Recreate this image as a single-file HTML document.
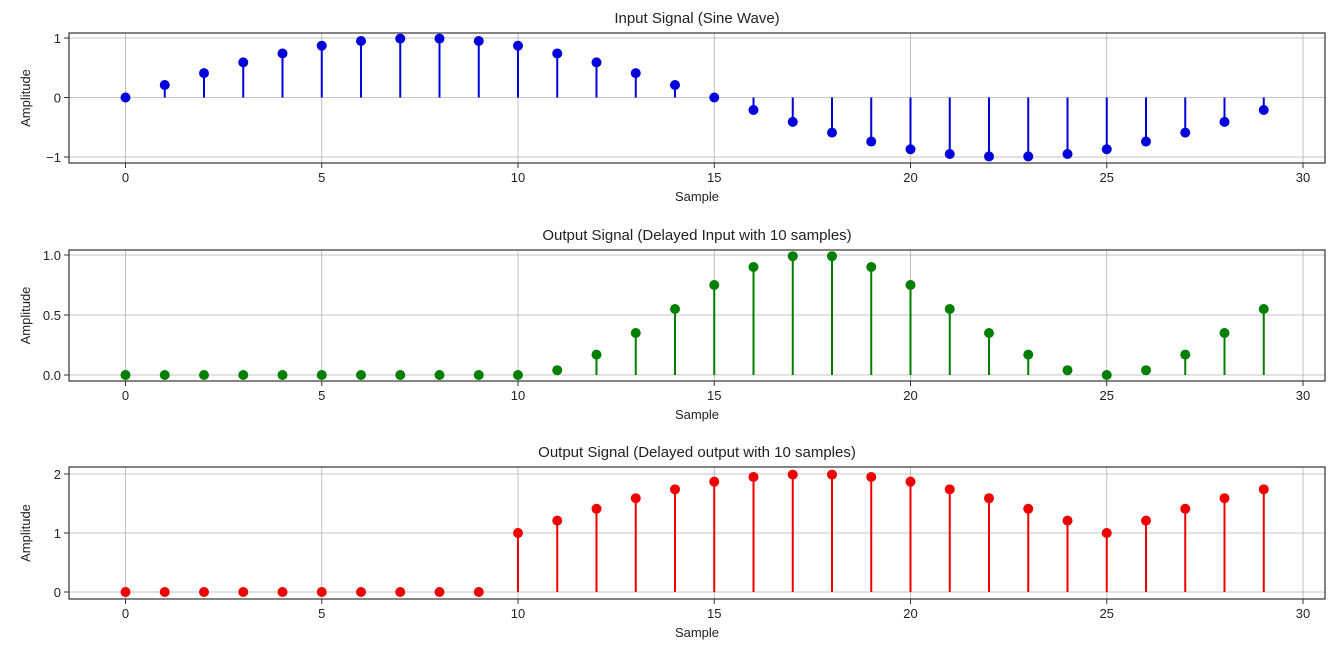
<!DOCTYPE html>
<html><head><meta charset="utf-8">
<style>
body{margin:0;background:#fff;}
svg text{font-family:"Liberation Sans","DejaVu Sans",sans-serif;fill:#222;}
</style></head>
<body>
<svg id="chart" width="1339" height="650" xmlns="http://www.w3.org/2000/svg"></svg>
<script>
const samples = Array.from({length:30},(_, i)=>i);
const inputValues = [0,0.21,0.41,0.59,0.74,0.87,0.95,0.99,0.99,0.95,0.87,0.74,0.59,0.41,0.21,0,-0.21,-0.41,-0.59,-0.74,-0.87,-0.95,-0.99,-0.99,-0.95,-0.87,-0.74,-0.59,-0.41,-0.21];
const delayedInputValues = [0,0,0,0,0,0,0,0,0,0,0,0.04,0.17,0.35,0.55,0.75,0.9,0.99,0.99,0.9,0.75,0.55,0.35,0.17,0.04,0,0.04,0.17,0.35,0.55];
const delayedOutputValues = [0,0,0,0,0,0,0,0,0,0,1,1.21,1.41,1.59,1.74,1.87,1.95,1.99,1.99,1.95,1.87,1.74,1.59,1.41,1.21,1,1.21,1.41,1.59,1.74];
const xTicks = [0,5,10,15,20,25,30];
const yTicks1 = [-1,0,1], yTickLabels1 = ["\u22121","0","1"];
const yTicks2 = [0,0.5,1], yTickLabels2 = ["0.0","0.5","1.0"];
const yTicks3 = [0,1,2], yTickLabels3 = ["0","1","2"];

const svg = document.getElementById('chart');
const NS = 'http://www.w3.org/2000/svg';
function mk(tag, attrs, parent){const e=document.createElementNS(NS,tag);for(const k in attrs)e.setAttribute(k,attrs[k]);(parent||svg).appendChild(e);return e;}

const L=69,R=1325;
const xs = v => 125.5 + v*(1303-125.5)/30;

function panel(cfg){
  const g = mk('g',{});
  
  
  const ys = v => cfg.y0px + (v - cfg.v0)*(cfg.y1px - cfg.y0px)/(cfg.v1 - cfg.v0);
  // grid
  xTicks.forEach(t=>{
    const l=mk('line',{x1:xs(t),x2:xs(t),y1:cfg.top,y2:cfg.bottom,stroke:'#b0b0b0','stroke-width':0.8},g);
    
    
    mk('line',{x1:xs(t),x2:xs(t),y1:cfg.bottom,y2:cfg.bottom+5,stroke:'#333','stroke-width':1},g);
    const tx=mk('text',{x:xs(t),y:cfg.bottom+19,'text-anchor':'middle','font-size':13},g);
    tx.textContent=t;
    
    
  });
  cfg.yTicks.forEach((t,i)=>{
    const l=mk('line',{x1:L,x2:R,y1:ys(t),y2:ys(t),stroke:'#b0b0b0','stroke-width':0.8},g);
    
    
    mk('line',{x1:L-5,x2:L,y1:ys(t),y2:ys(t),stroke:'#333','stroke-width':1},g);
    const tx=mk('text',{x:L-8,y:ys(t)+5,'text-anchor':'end','font-size':13},g);
    tx.textContent=cfg.yLabels[i];
    
    
  });
  // stems
  samples.forEach((s,i)=>{
    const v=cfg.values[i];
    const st=mk('line',{x1:xs(s),x2:xs(s),y1:ys(0),y2:ys(v),stroke:cfg.color,'stroke-width':2},g);
    
    
  });
  samples.forEach((s,i)=>{
    const c=mk('circle',{cx:xs(s),cy:ys(cfg.values[i]),r:5,fill:cfg.color},g);
    
    
  });
  const fr=mk('rect',{x:L,y:cfg.top,width:R-L,height:cfg.bottom-cfg.top,fill:'none',stroke:'#333','stroke-width':1.2},g);
  
  
  const ti=mk('text',{x:(L+R)/2,y:cfg.top-10,'text-anchor':'middle','font-size':15},g);
  ti.textContent=cfg.title;
  
  
  const xl=mk('text',{x:(L+R)/2,y:cfg.bottom+38,'text-anchor':'middle','font-size':13},g);
  xl.textContent='Sample';
  
  
  const yc=(cfg.top+cfg.bottom)/2;
  const yl=mk('text',{x:30,y:yc,'text-anchor':'middle','font-size':13,transform:`rotate(-90 30 ${yc})`},g);
  yl.textContent='Amplitude';
  
  
}

panel({name:'input-signal-panel',title:'Input Signal (Sine Wave)',top:33,bottom:163,v0:-1,v1:1,y0px:157,y1px:38,yTicks:yTicks1,yLabels:yTickLabels1,values:inputValues,color:'#0000dd'});
panel({name:'delayed-input-panel',title:'Output Signal (Delayed Input with 10 samples)',top:250,bottom:381,v0:0,v1:1,y0px:375,y1px:255,yTicks:yTicks2,yLabels:yTickLabels2,values:delayedInputValues,color:'#007f00'});
panel({name:'delayed-output-panel',title:'Output Signal (Delayed output with 10 samples)',top:467,bottom:599,v0:0,v1:2,y0px:592,y1px:474,yTicks:yTicks3,yLabels:yTickLabels3,values:delayedOutputValues,color:'#ee0000'});
</script>
</body></html>
